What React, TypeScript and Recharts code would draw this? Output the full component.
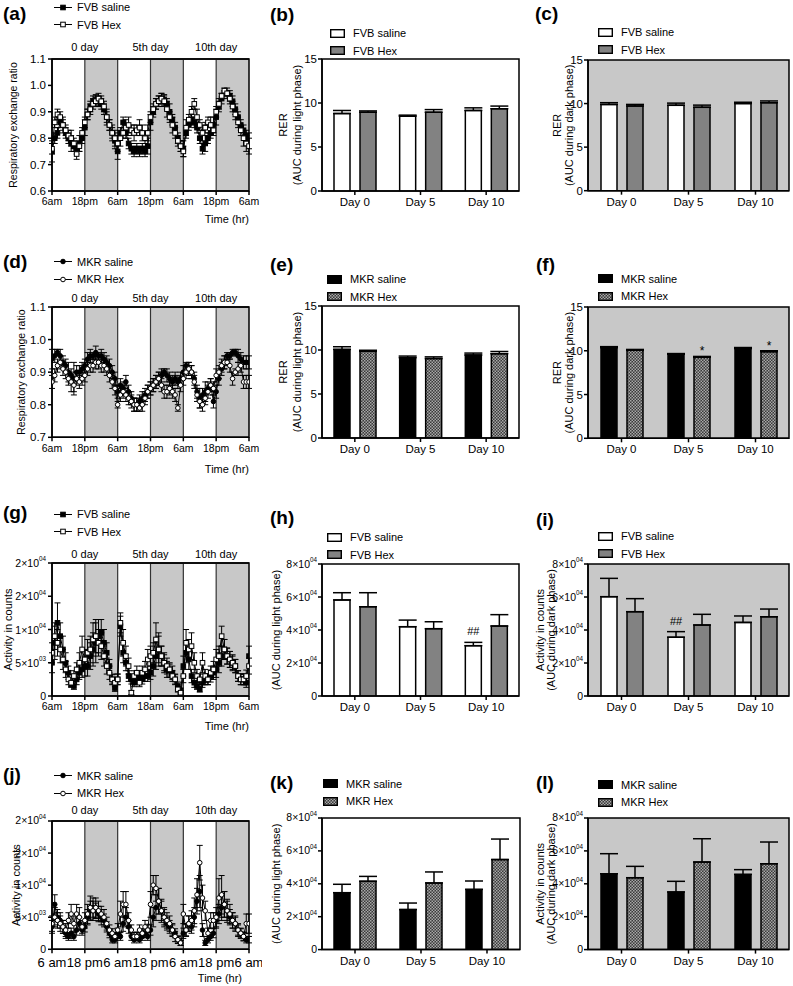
import React from 'react';
import {
  ComposedChart, BarChart, Bar, Line, XAxis, YAxis, ErrorBar, ReferenceArea,
  ReferenceLine, CartesianGrid, Legend, LabelList,
} from 'recharts';

const FONT = '"Liberation Sans", Arial, Helvetica, sans-serif';
const PHASE_GREY = '#c8c8c8';
const HEX_GREY = '#828282';

// ---------- time course data (one point per hour, 6am day 0 = hour 0) ----------
const hours = Array.from({ length: 73 }, (_, i) => i);
const hourTicks = [0, 12, 24, 36, 48, 60, 72];
const hourLabels = ['6am', '18pm', '6am', '18pm', '6am', '18pm', '6am'];
const hourLabelsG = ['6am', '18pm', '6am', '18am', '6am', '18pm', '6am'];
const hourLabelsJ = ['6 am', '18 pm', '6 am', '18 pm', '6 am', '18 pm', '6 am'];
const dayTicks = [12, 36, 60];
const dayLabels = ['0 day', '5th day', '10th day'];
const darkPhases = [[12, 24], [36, 48], [60, 72]];
const phaseEdges = [12, 24, 36, 48, 60];

const fvbSalineRer = [
  0.75, 0.80, 0.82, 0.86, 0.85, 0.82, 0.80, 0.78, 0.77, 0.76, 0.78, 0.80,
  0.84, 0.89, 0.92, 0.94, 0.945, 0.94, 0.93, 0.91, 0.88, 0.85, 0.82, 0.79,
  0.75, 0.82, 0.86, 0.82, 0.78, 0.76, 0.75, 0.76, 0.75, 0.76, 0.75, 0.77,
  0.86, 0.90, 0.93, 0.94, 0.95, 0.945, 0.93, 0.90, 0.87, 0.84, 0.80, 0.77,
  0.76, 0.82, 0.85, 0.87, 0.86, 0.84, 0.80, 0.76, 0.78, 0.80, 0.82, 0.85,
  0.88, 0.92, 0.95, 0.97, 0.97, 0.96, 0.94, 0.91, 0.88, 0.85, 0.83, 0.81,
  0.79,
];
const fvbSalineRerErr = [
  0.04, 0.02, 0.02, 0.02, 0.02, 0.02, 0.02, 0.03, 0.02, 0.02, 0.03, 0.02,
  0.03, 0.02, 0.02, 0.02, 0.02, 0.02, 0.02, 0.02, 0.02, 0.02, 0.03, 0.03,
  0.03, 0.02, 0.02, 0.02, 0.02, 0.02, 0.02, 0.02, 0.02, 0.02, 0.02, 0.03,
  0.03, 0.02, 0.02, 0.02, 0.02, 0.02, 0.02, 0.03, 0.02, 0.02, 0.02, 0.02,
  0.03, 0.02, 0.02, 0.02, 0.02, 0.02, 0.02, 0.02, 0.03, 0.02, 0.02, 0.03,
  0.03, 0.02, 0.02, 0.01, 0.01, 0.02, 0.02, 0.02, 0.02, 0.02, 0.02, 0.02,
  0.03,
];
const fvbHexRer = [
  0.76, 0.86, 0.89, 0.88, 0.85, 0.83, 0.81, 0.80, 0.78, 0.74, 0.77, 0.82,
  0.86, 0.89, 0.91, 0.93, 0.94, 0.95, 0.94, 0.92, 0.88, 0.85, 0.82, 0.80,
  0.78, 0.80, 0.82, 0.84, 0.85, 0.83, 0.82, 0.83, 0.84, 0.82, 0.80, 0.82,
  0.88, 0.91, 0.93, 0.94, 0.95, 0.94, 0.91, 0.88, 0.85, 0.82, 0.79, 0.77,
  0.75, 0.84, 0.87, 0.90, 0.93, 0.88, 0.85, 0.82, 0.84, 0.86, 0.85, 0.83,
  0.90, 0.93, 0.96, 0.98, 0.97, 0.95, 0.92, 0.89, 0.86, 0.83, 0.80, 0.78,
  0.77,
];
const fvbHexRerErr = [
  0.02, 0.02, 0.02, 0.02, 0.03, 0.02, 0.02, 0.03, 0.02, 0.02, 0.02, 0.02,
  0.02, 0.02, 0.02, 0.02, 0.02, 0.02, 0.02, 0.02, 0.03, 0.02, 0.02, 0.03,
  0.03, 0.03, 0.02, 0.03, 0.03, 0.02, 0.03, 0.02, 0.03, 0.03, 0.02, 0.03,
  0.02, 0.02, 0.02, 0.02, 0.02, 0.02, 0.03, 0.02, 0.03, 0.02, 0.02, 0.02,
  0.02, 0.03, 0.02, 0.02, 0.02, 0.03, 0.02, 0.03, 0.02, 0.02, 0.03, 0.02,
  0.02, 0.02, 0.01, 0.01, 0.02, 0.02, 0.02, 0.02, 0.02, 0.02, 0.03, 0.03,
  0.03,
];

const mkrSalineRer = [
  0.94, 0.95, 0.96, 0.95, 0.93, 0.92, 0.90, 0.89, 0.88, 0.90, 0.90, 0.91,
  0.92, 0.94, 0.95, 0.95, 0.96, 0.95, 0.95, 0.94, 0.93, 0.92, 0.90, 0.88,
  0.84, 0.86, 0.85, 0.87, 0.84, 0.82, 0.80, 0.80, 0.81, 0.82, 0.83, 0.84,
  0.85, 0.86, 0.87, 0.88, 0.89, 0.90, 0.89, 0.88, 0.87, 0.88, 0.87, 0.88,
  0.90, 0.92, 0.91, 0.90, 0.88, 0.84, 0.82, 0.83, 0.84, 0.85, 0.86, 0.81,
  0.84, 0.88, 0.91, 0.93, 0.95, 0.95, 0.96, 0.96, 0.95, 0.94, 0.93, 0.93,
  0.93,
];
const mkrSalineRerErr = [
  0.03, 0.02, 0.01, 0.02, 0.02, 0.02, 0.03, 0.02, 0.05, 0.02, 0.02, 0.02,
  0.02, 0.02, 0.02, 0.01, 0.02, 0.01, 0.02, 0.02, 0.02, 0.02, 0.02, 0.02,
  0.02, 0.02, 0.02, 0.02, 0.02, 0.02, 0.02, 0.02, 0.02, 0.02, 0.02, 0.02,
  0.02, 0.02, 0.02, 0.02, 0.02, 0.01, 0.02, 0.02, 0.02, 0.02, 0.02, 0.02,
  0.02, 0.01, 0.02, 0.02, 0.02, 0.02, 0.03, 0.02, 0.03, 0.02, 0.02, 0.02,
  0.02, 0.02, 0.02, 0.02, 0.01, 0.01, 0.01, 0.01, 0.02, 0.02, 0.02, 0.02,
  0.02,
];
const mkrHexRer = [
  0.87, 0.89, 0.92, 0.93, 0.91, 0.90, 0.88, 0.87, 0.86, 0.88, 0.87, 0.88,
  0.89, 0.91, 0.92, 0.92, 0.93, 0.93, 0.92, 0.92, 0.91, 0.89, 0.87, 0.85,
  0.80, 0.83, 0.84, 0.83, 0.82, 0.81, 0.80, 0.80, 0.79, 0.80, 0.82, 0.84,
  0.85, 0.86, 0.87, 0.88, 0.86, 0.84, 0.84, 0.85, 0.84, 0.83, 0.79, 0.86,
  0.88, 0.90, 0.91, 0.90, 0.87, 0.83, 0.81, 0.80, 0.82, 0.84, 0.86, 0.85,
  0.89, 0.90, 0.92, 0.93, 0.93, 0.92, 0.88, 0.90, 0.91, 0.92, 0.87, 0.87,
  0.87,
];
const mkrHexRerErr = [
  0.02, 0.02, 0.02, 0.02, 0.02, 0.02, 0.02, 0.03, 0.02, 0.02, 0.02, 0.02,
  0.02, 0.02, 0.02, 0.02, 0.02, 0.02, 0.02, 0.02, 0.02, 0.02, 0.02, 0.02,
  0.01, 0.02, 0.02, 0.02, 0.02, 0.02, 0.02, 0.02, 0.01, 0.02, 0.02, 0.02,
  0.02, 0.02, 0.02, 0.02, 0.02, 0.02, 0.02, 0.02, 0.02, 0.02, 0.01, 0.02,
  0.02, 0.02, 0.02, 0.02, 0.02, 0.02, 0.02, 0.02, 0.02, 0.02, 0.02, 0.02,
  0.02, 0.02, 0.02, 0.02, 0.01, 0.02, 0.02, 0.01, 0.02, 0.02, 0.02, 0.02,
  0.02,
];

const fvbSalineAct = [
  5000, 8000, 11000, 9000, 7000, 5000, 3500, 1800, 1500, 2500, 3500, 4000,
  4500, 4500, 6000, 7000, 8000, 9000, 9500, 8000, 6500, 4500, 2500, 1200,
  2500, 10500, 6500, 5000, 3000, 2500, 2000, 2500, 3000, 2500, 3000, 3000,
  3500, 4500, 6000, 7000, 6000, 5000, 4000, 3800, 3500, 2500, 1500, 800,
  4500, 6500, 5500, 3000, 2000, 1500, 1000, 2000, 2500, 2500, 3000, 3500,
  4000, 5000, 6000, 7000, 6000, 5500, 5000, 4500, 3000, 2500, 2500, 2000,
  6000,
];
const fvbSalineActErr = [
  1500, 2500, 3000, 2000, 2000, 1500, 1000, 500, 500, 800, 1000, 1200,
  1500, 1500, 2000, 2500, 3000, 2500, 2000, 2000, 1500, 1000, 700, 500,
  800, 1500, 1500, 1200, 800, 700, 600, 700, 800, 700, 800, 800,
  1000, 1500, 2000, 2500, 1500, 1500, 1200, 1000, 1000, 800, 600, 400,
  1500, 1500, 1500, 1000, 700, 500, 400, 700, 800, 800, 900, 1000,
  1200, 1500, 1500, 1500, 1200, 1200, 1200, 1000, 800, 800, 800, 700,
  1500,
];
const fvbHexAct = [
  6500, 9000, 8000, 7000, 5500, 4000, 2500, 2000, 3000, 4000, 5000, 7000,
  5500, 6500, 7000, 8500, 9000, 8000, 7500, 6000, 4500, 3500, 2500, 2000,
  2500, 11000, 8000, 6000, 4500, 500, 3000, 3500, 2000, 3500, 4000, 5500,
  6000, 6500, 8500, 7000, 6000, 5000, 4500, 4000, 3000, 2500, 1000, 500,
  3000, 8000, 7000, 7500, 5000, 3000, 2500, 5000, 3000, 2500, 3500, 4000,
  5500, 6000, 9000, 7000, 6000, 5500, 5000, 4500, 3000, 2500, 2500, 3000,
  4500,
];
const fvbHexActErr = [
  1500, 2000, 2000, 2000, 1500, 1200, 800, 600, 800, 1000, 1500, 2000,
  1500, 2000, 2000, 2500, 2500, 2000, 2000, 1500, 1200, 1000, 800, 600,
  800, 1500, 2000, 1500, 1200, 300, 800, 1000, 600, 1000, 1200, 1500,
  1500, 1500, 2500, 2000, 1500, 1200, 1200, 1000, 800, 700, 400, 300,
  1000, 2000, 1500, 2000, 1500, 1000, 800, 1500, 1000, 800, 1000, 1200,
  1500, 1500, 1500, 1500, 1200, 1200, 1000, 1000, 800, 800, 800, 900,
  1200,
];

const mkrSalineAct = [
  3500, 7000, 5000, 4500, 3500, 2500, 2000, 2500, 2000, 3000, 4000, 3000,
  3500, 5000, 6000, 6500, 6000, 5500, 5000, 4500, 3500, 2500, 1500, 1500,
  2500, 2000, 4000, 5000, 3500, 2000, 1500, 2000, 1500, 2000, 2500, 2000,
  3000, 5000, 6500, 7500, 6000, 5000, 4000, 3500, 3000, 2500, 1500, 1000,
  2500, 3000, 4000, 3500, 5000, 7500, 9000, 3000, 1000, 1500, 2000, 2500,
  4500, 5500, 6500, 7000, 6000, 5000, 4500, 4000, 3000, 2500, 2000, 1500,
  1500,
];
const mkrSalineActErr = [
  1000, 1500, 1200, 1200, 1000, 800, 600, 800, 600, 800, 1000, 800,
  800, 1200, 1500, 1500, 1200, 1200, 1200, 1000, 800, 700, 500, 500,
  800, 600, 1200, 1500, 1000, 600, 500, 600, 500, 600, 700, 600,
  800, 1500, 2000, 2000, 1500, 1200, 1000, 1000, 800, 700, 500, 400,
  800, 900, 1200, 1000, 1500, 2000, 2500, 1000, 400, 500, 600, 700,
  1200, 1500, 2000, 2000, 1500, 1200, 1200, 1000, 800, 700, 600, 500,
  500,
];
const mkrHexAct = [
  4000, 5000, 4500, 4000, 3500, 3000, 4500, 5500, 4000, 5500, 5000, 3500,
  4500, 5500, 6500, 6000, 6500, 6000, 5500, 5000, 4000, 3000, 2500, 2000,
  3000, 5500, 7000, 7000, 4500, 3000, 2000, 2000, 3000, 2500, 3500, 3000,
  7000, 10000, 9500, 7500, 6000, 5000, 4500, 4000, 3000, 2000, 1500, 1000,
  5500, 3000, 4000, 4500, 6000, 8500, 13500, 8000, 6000, 2500, 4500, 4500,
  5000, 8000, 8500, 7000, 6000, 5500, 4500, 4000, 3000, 2500, 2000, 4000,
  4000,
];
const mkrHexActErr = [
  1200, 1500, 1200, 1200, 1000, 1000, 1200, 1500, 1200, 1500, 1500, 1000,
  1200, 1500, 1800, 1500, 1500, 1500, 1200, 1200, 1000, 800, 700, 600,
  1000, 2000, 2000, 2000, 1200, 800, 600, 700, 800, 700, 1000, 900,
  2000, 1500, 2000, 2000, 1800, 1500, 1200, 1200, 1000, 800, 600, 400,
  1500, 1000, 1200, 1500, 2000, 2500, 2700, 2000, 1500, 800, 1200, 1200,
  1500, 3000, 3000, 2000, 1800, 1500, 1200, 1200, 1000, 800, 700, 1500,
  1500,
];

const rerTicksA = [0.6, 0.7, 0.8, 0.9, 1.0, 1.1];
const rerTicksD = [0.7, 0.8, 0.9, 1.0, 1.1];
const actTsTicks = [0, 5000, 10000, 15000, 20000];
const actTsTickLabels = ['0', '5×10^03', '1×10^04', '2×10^04', '2×10^04'];

// ---------- AUC bar data ----------
const days = ['Day 0', 'Day 5', 'Day 10'];
const rerTicks = [0, 5, 10, 15];
const aucActTicks = [0, 20000, 40000, 60000, 80000];
const aucActTickLabels = ['0', '2×10^04', '4×10^04', '6×10^04', '8×10^04'];

const rerLightFvbSaline = [8.8, 8.5, 9.15];
const rerLightFvbSalineErr = [0.35, 0.12, 0.3];
const rerLightFvbHex = [8.95, 8.95, 9.35];
const rerLightFvbHexErr = [0.15, 0.3, 0.3];

const rerDarkFvbSaline = [9.9, 9.8, 10.0];
const rerDarkFvbSalineErr = [0.2, 0.25, 0.15];
const rerDarkFvbHex = [9.72, 9.57, 10.1];
const rerDarkFvbHexErr = [0.18, 0.25, 0.2];

const rerLightMkrSaline = [10.07, 9.13, 9.43];
const rerLightMkrSalineErr = [0.3, 0.18, 0.22];
const rerLightMkrHex = [9.85, 9.02, 9.58];
const rerLightMkrHexErr = [0.12, 0.2, 0.25];

const rerDarkMkrSaline = [10.35, 9.6, 10.25];
const rerDarkMkrSalineErr = [0.12, 0.08, 0.12];
const rerDarkMkrHex = [10.05, 9.25, 9.9];
const rerDarkMkrHexErr = [0.1, 0.1, 0.1];
const rerDarkMkrHexMarks = ['', '*', '*'];

const actLightFvbSaline = [58200, 42000, 30500];
const actLightFvbSalineErr = [4400, 4000, 2000];
const actLightFvbSalineMarks = ['', '', '##'];
const actLightFvbHex = [54100, 40800, 42400];
const actLightFvbHexErr = [8500, 4200, 6900];

const actDarkFvbSaline = [60200, 35600, 44600];
const actDarkFvbSalineErr = [11100, 3400, 3900];
const actDarkFvbSalineMarks = ['', '##', ''];
const actDarkFvbHex = [51100, 43000, 48000];
const actDarkFvbHexErr = [7900, 6500, 4700];

const actLightMkrSaline = [34600, 24300, 36600];
const actLightMkrSalineErr = [5100, 4000, 5100];
const actLightMkrHex = [41500, 40500, 54700];
const actLightMkrHexErr = [3000, 6700, 12500];

const actDarkMkrSaline = [46100, 35000, 45700];
const actDarkMkrSalineErr = [12200, 6500, 2900];
const actDarkMkrHex = [43700, 53200, 52200];
const actDarkMkrHexErr = [6900, 14200, 13200];

// ---------- drawing helpers ----------
const axisStroke = { stroke: '#000', strokeWidth: 1.5 };

function Marker({ cx, cy, shape, filled, size = 4.6 }: any) {
  if (cx == null || cy == null) return null;
  const fill = filled ? '#000' : '#fff';
  if (shape === 'square') {
    return <rect x={cx - size / 2} y={cy - size / 2} width={size} height={size} fill={fill} stroke="#000" strokeWidth={1} />;
  }
  return <circle cx={cx} cy={cy} r={size / 2} fill={fill} stroke="#000" strokeWidth={1} />;
}

function SciTick(props: any) {
  const { x, y, payload, ticks, labels, fontSize = 10.5 } = props;
  const i = ticks.indexOf(payload.value);
  const lab: string = i >= 0 ? labels[i] : String(payload.value);
  const [m, e] = lab.split('^');
  return (
    <text x={x} y={y} textAnchor="end" dominantBaseline="central" fontSize={fontSize} fontFamily={FONT} fill="#000">
      {m}
      {e && <tspan dy={-fontSize * 0.45} fontSize={fontSize * 0.6}>{e}</tspan>}
    </text>
  );
}

function Checker({ id }: { id: string }) {
  return (
    <pattern id={id} width={3} height={3} patternUnits="userSpaceOnUse">
      <rect width={3} height={3} fill="#3a3a3a" />
      <rect width={1.5} height={1.5} fill="#a8a8a8" />
      <rect x={1.5} y={1.5} width={1.5} height={1.5} fill="#a8a8a8" />
    </pattern>
  );
}

// legend rows follow the series order; the text comes from the recharts payload
const entryFor = (p: any, name: string) => (p.payload ?? []).find((e: any) => e.value === name);

const tsLegend = (series: any[]) => (p: any) => (
  <div style={{ fontFamily: FONT, fontSize: 11, color: '#000' }}>
    {series.map((s: any, i: number) => {
      const entry = entryFor(p, s.name);
      return (
        <div key={i} style={{ display: 'flex', alignItems: 'center', height: 17.5, whiteSpace: 'nowrap' }}>
          <svg width={18} height={9} style={{ display: 'block' }}>
            <line x1={0} x2={18} y1={4.5} y2={4.5} stroke="#000" strokeWidth={1} />
            <Marker cx={9} cy={4.5} shape={s.shape} filled={s.filled} />
          </svg>
          <span style={{ marginLeft: 5 }}>{entry ? entry.value : s.name}</span>
        </div>
      );
    })}
  </div>
);

const barLegend = (series: any[], pid: string) => (p: any) => (
  <div style={{ fontFamily: FONT, fontSize: 11, color: '#000' }}>
    {series.map((s: any, i: number) => {
      const entry = entryFor(p, s.name);
      const lid = `${pid}-leg`;
      return (
        <div key={i} style={{ display: 'flex', alignItems: 'center', height: 17.5, whiteSpace: 'nowrap' }}>
          <svg width={15} height={9} style={{ display: 'block' }}>
            {s.pattern && <defs><Checker id={lid} /></defs>}
            <rect x={0.7} y={0.7} width={13.6} height={7.6} fill={s.pattern ? `url(#${lid})` : s.fill} stroke="#000" strokeWidth={1.4} />
          </svg>
          <span style={{ marginLeft: 8 }}>{entry ? entry.value : s.name}</span>
        </div>
      );
    })}
  </div>
);

function TimePanel(props: any) {
  const { top, plotH, legendY, series, yDomain, yTicks, yTickLabels, yTitle, yTitleX, yTitleSize = 10.5,
    xLabels, xFont = 10.5, xTickMargin = 3, dayGap, timeDy, timeRight = 0 } = props;
  const data = hours.map((h, i) => ({
    h,
    s0: series[0].values[i], e0: series[0].errors[i],
    s1: series[1].values[i], e1: series[1].errors[i],
  }));
  const plotTop = 59;
  const height = plotTop + plotH + 42;
  const cy = plotTop + plotH / 2;
  const tick = { fontSize: 11.5, fill: '#000', fontFamily: FONT };
  return (
    <div style={{ position: 'absolute', left: 0, top }}>
      <ComposedChart width={262} height={height} data={data} margin={{ top: 30, right: 13, bottom: 0, left: 0 }}>
        {darkPhases.map(([a, b]) => (
          <ReferenceArea key={a} x1={a} x2={b} fill={PHASE_GREY} fillOpacity={1} stroke="none" />
        ))}
        {phaseEdges.map((x) => (
          <ReferenceLine key={x} x={x} stroke="#333" strokeWidth={1.2} />
        ))}
        <ReferenceArea x1={0} x2={72} y1={yDomain[0]} y2={yDomain[1]} fill="none" stroke="#000" strokeWidth={1.5} />
        <XAxis
          xAxisId="top" orientation="top" type="number" domain={[0, 72]} ticks={dayTicks} interval={0}
          height={29} tickSize={0} tickMargin={dayGap} allowDataOverflow
          tickFormatter={(v: any, i: number) => dayLabels[i]}
          axisLine={axisStroke} tickLine={false} tick={{ ...tick, fontSize: 11 }}
        />
        <XAxis
          dataKey="h" type="number" domain={[0, 72]} ticks={hourTicks} interval={0}
          height={42} tickSize={4} tickMargin={xTickMargin} allowDataOverflow
          tickFormatter={(v: any, i: number) => xLabels[i]}
          axisLine={axisStroke} tickLine={axisStroke} tick={{ ...tick, fontSize: xFont }}
          label={() => (
            <text x={249 - timeRight} y={plotTop + plotH + timeDy} textAnchor="end" dominantBaseline="central"
              fontSize={11} fontFamily={FONT} fill="#000">Time (hr)</text>
          )}
        />
        <YAxis
          type="number" domain={yDomain} ticks={yTicks} interval={0} width={52} tickSize={4} tickMargin={2}
          allowDataOverflow axisLine={axisStroke} tickLine={axisStroke}
          tick={yTickLabels
            ? (p: any) => <SciTick {...p} ticks={yTicks} labels={yTickLabels} />
            : tick}
          tickFormatter={yTickLabels ? undefined : (v: number) => v.toFixed(1)}
          label={() => (
            <text x={yTitleX} y={cy} transform={`rotate(-90 ${yTitleX} ${cy})`} textAnchor="middle"
              dominantBaseline="central" fontSize={yTitleSize} fontFamily={FONT} fill="#000">{yTitle}</text>
          )}
        />
        <Legend
          layout="vertical" align="center" verticalAlign="middle"
          wrapperStyle={{ left: 54, top: legendY - top - 8.75, width: 'auto' }}
          content={tsLegend(series)}
        />
        {series.map((s: any, k: number) => (
          <Line
            key={k} dataKey={`s${k}`} name={s.name} stroke="#000" strokeWidth={1}
            isAnimationActive={false} activeDot={false}
            dot={(p: any) => <Marker key={`m${k}-${p.index}`} cx={p.cx} cy={p.cy} shape={s.shape} filled={s.filled} />}
          >
            <ErrorBar dataKey={`e${k}`} width={3} strokeWidth={1} stroke="#000" direction="y" />
          </Line>
        ))}
      </ComposedChart>
    </div>
  );
}

function BarPanel(props: any) {
  const { left, plotTop, plotH, width, yMax, yTicks, yTickLabels, titles, titleXs, bg, series,
    legendX, legendY, pid } = props;
  const top = plotTop - 60;
  const height = 60 + plotH + 30;
  const cy = 60 + plotH / 2;
  const data = days.map((d, i) => ({
    day: d,
    s0: series[0].values[i], e0: [0, series[0].errors[i]], m0: series[0].marks ? series[0].marks[i] : '',
    s1: series[1].values[i], e1: [0, series[1].errors[i]], m1: series[1].marks ? series[1].marks[i] : '',
  }));
  const tick = { fontSize: 11.5, fill: '#000', fontFamily: FONT };
  const markContent = (s: any) => (p: any) => {
    const vb = p.viewBox && p.viewBox.width != null ? p.viewBox : p;
    const { x, y, width: w, height: h } = vb;
    const i = p.index;
    if (!p.value || i == null) return null;
    const pxPer = h / s.values[i];
    const capY = y - s.errors[i] * pxPer;
    const isStar = p.value === '*';
    return (
      <text x={x + w / 2} y={capY - (isStar ? 1 : 7)} textAnchor="middle" fontSize={isStar ? 12 : 11}
        fontFamily={FONT} fill="#000">{p.value}</text>
    );
  };
  return (
    <div style={{ position: 'absolute', left, top }}>
      <BarChart width={width} height={height} data={data} margin={{ top: 60, right: 3, bottom: 0, left: 0 }}
        barSize={16} barGap={10}>
        <defs><Checker id={pid} /></defs>
        <CartesianGrid horizontal={false} vertical={false} fill={bg} fillOpacity={1} />
        <XAxis
          dataKey="day" height={30} tickSize={4} tickMargin={3} interval={0}
          axisLine={axisStroke} tickLine={axisStroke} tick={{ ...tick, fontSize: 11.5 }}
        />
        <YAxis
          type="number" domain={[0, yMax]} ticks={yTicks} interval={0} width={60} tickSize={4} tickMargin={1}
          allowDataOverflow axisLine={axisStroke} tickLine={axisStroke}
          tick={yTickLabels ? (p: any) => <SciTick {...p} ticks={yTicks} labels={yTickLabels} /> : tick}
          label={() => (
            <g>
              {titles.map((t: string, i: number) => (
                <text key={i} x={titleXs[i] - left} y={cy} transform={`rotate(-90 ${titleXs[i] - left} ${cy})`}
                  textAnchor="middle" dominantBaseline="central" fontSize={11} fontFamily={FONT} fill="#000">{t}</text>
              ))}
            </g>
          )}
        />
        <ReferenceArea y1={0} y2={yMax} fill="none" stroke="#000" strokeWidth={1.5} />
        <Legend
          layout="vertical" align="center" verticalAlign="middle"
          wrapperStyle={{ left: legendX - left, top: legendY - top - 8.75, width: 'auto' }}
          content={barLegend(series, pid)}
        />
        {series.map((s: any, k: number) => (
          <Bar key={k} dataKey={`s${k}`} name={s.name} fill={s.pattern ? `url(#${pid})` : s.fill}
            stroke="#000" strokeWidth={1.5} isAnimationActive={false}>
            <ErrorBar dataKey={`e${k}`} width={9} strokeWidth={1.5} stroke="#000" direction="y" />
            {s.marks && <LabelList dataKey={`m${k}`} content={markContent(s)} />}
          </Bar>
        ))}
      </BarChart>
    </div>
  );
}

const letters = [
  { t: '(a)', x: 3, y: 14 }, { t: '(b)', x: 270, y: 15 }, { t: '(c)', x: 535, y: 14 },
  { t: '(d)', x: 3, y: 262 }, { t: '(e)', x: 270, y: 265 }, { t: '(f)', x: 536, y: 265 },
  { t: '(g)', x: 3, y: 513 }, { t: '(h)', x: 270, y: 518 }, { t: '(i)', x: 536, y: 520 },
  { t: '(j)', x: 3, y: 775 }, { t: '(k)', x: 270, y: 783 }, { t: '(l)', x: 536, y: 783 },
];

export default function App() {
  const fvbTs = (v0: number[], e0: number[], v1: number[], e1: number[]) => [
    { name: 'FVB saline', values: v0, errors: e0, shape: 'square', filled: true },
    { name: 'FVB Hex', values: v1, errors: e1, shape: 'square', filled: false },
  ];
  const mkrTs = (v0: number[], e0: number[], v1: number[], e1: number[]) => [
    { name: 'MKR saline', values: v0, errors: e0, shape: 'circle', filled: true },
    { name: 'MKR Hex', values: v1, errors: e1, shape: 'circle', filled: false },
  ];
  const fvbBars = (v0: number[], e0: number[], v1: number[], e1: number[], m0?: string[]) => [
    { name: 'FVB saline', values: v0, errors: e0, fill: '#fff', marks: m0 },
    { name: 'FVB Hex', values: v1, errors: e1, fill: HEX_GREY },
  ];
  const mkrBars = (v0: number[], e0: number[], v1: number[], e1: number[], m1?: string[]) => [
    { name: 'MKR saline', values: v0, errors: e0, fill: '#000' },
    { name: 'MKR Hex', values: v1, errors: e1, fill: '#555', pattern: true, marks: m1 },
  ];
  return (
    <div style={{ position: 'absolute', left: 0, top: 0, width: 793, height: 986, background: '#fff', fontFamily: FONT, overflow: 'hidden' }}>
      <TimePanel
        top={0} plotH={132} legendY={7} dayGap={8}
        series={fvbTs(fvbSalineRer, fvbSalineRerErr, fvbHexRer, fvbHexRerErr)}
        yDomain={[0.6, 1.1]} yTicks={rerTicksA} yTitle="Respiratory exchange ratio" yTitleX={12.5}
        xLabels={hourLabels} timeDy={28}
      />
      <TimePanel
        top={247.7} plotH={130.3} legendY={262} dayGap={5}
        series={mkrTs(mkrSalineRer, mkrSalineRerErr, mkrHexRer, mkrHexRerErr)}
        yDomain={[0.7, 1.1]} yTicks={rerTicksD} yTitle="Respiratory exchange ratio" yTitleX={22}
        xLabels={hourLabels} timeDy={32}
      />
      <TimePanel
        top={504} plotH={133} legendY={514} dayGap={5.5}
        series={fvbTs(fvbSalineAct, fvbSalineActErr, fvbHexAct, fvbHexActErr)}
        yDomain={[0, 20000]} yTicks={actTsTicks} yTickLabels={actTsTickLabels}
        yTitle="Activity in counts" yTitleX={8} yTitleSize={11}
        xLabels={hourLabelsG} timeDy={30}
      />
      <TimePanel
        top={761.7} plotH={128.3} legendY={776} dayGap={6.5}
        series={mkrTs(mkrSalineAct, mkrSalineActErr, mkrHexAct, mkrHexActErr)}
        yDomain={[0, 20000]} yTicks={actTsTicks} yTickLabels={actTsTickLabels}
        yTitle="Activity in counts" yTitleX={16} yTitleSize={11}
        xLabels={hourLabelsJ} xFont={13} xTickMargin={4} timeDy={29} timeRight={7}
      />

      <BarPanel
        left={262} plotTop={59} plotH={132} width={260} yMax={15} yTicks={rerTicks}
        titles={['RER', '(AUC during light phase)']} titleXs={[283, 297]} bg="none"
        series={fvbBars(rerLightFvbSaline, rerLightFvbSalineErr, rerLightFvbHex, rerLightFvbHexErr)}
        legendX={330} legendY={33} pid="pat-b"
      />
      <BarPanel
        left={528} plotTop={60} plotH={130.7} width={264} yMax={15} yTicks={rerTicks}
        titles={['RER', '(AUC during dark phase)']} titleXs={[557, 569]} bg={PHASE_GREY}
        series={fvbBars(rerDarkFvbSaline, rerDarkFvbSalineErr, rerDarkFvbHex, rerDarkFvbHexErr)}
        legendX={598} legendY={32} pid="pat-c"
      />
      <BarPanel
        left={262} plotTop={306} plotH={132} width={260} yMax={15} yTicks={rerTicks}
        titles={['RER', '(AUC during light phase)']} titleXs={[283, 297]} bg="none"
        series={mkrBars(rerLightMkrSaline, rerLightMkrSalineErr, rerLightMkrHex, rerLightMkrHexErr)}
        legendX={327} legendY={279} pid="pat-e"
      />
      <BarPanel
        left={528} plotTop={306.7} plotH={131.3} width={264} yMax={15} yTicks={rerTicks}
        titles={['RER', '(AUC during dark phase)']} titleXs={[557, 569]} bg={PHASE_GREY}
        series={mkrBars(rerDarkMkrSaline, rerDarkMkrSalineErr, rerDarkMkrHex, rerDarkMkrHexErr, rerDarkMkrHexMarks)}
        legendX={598} legendY={279} pid="pat-f"
      />
      <BarPanel
        left={262} plotTop={564} plotH={132} width={260} yMax={80000} yTicks={aucActTicks} yTickLabels={aucActTickLabels}
        titles={['(AUC during light phase)']} titleXs={[276]} bg="none"
        series={fvbBars(actLightFvbSaline, actLightFvbSalineErr, actLightFvbHex, actLightFvbHexErr, actLightFvbSalineMarks)}
        legendX={327} legendY={537} pid="pat-h"
      />
      <BarPanel
        left={528} plotTop={564} plotH={132} width={264} yMax={80000} yTicks={aucActTicks} yTickLabels={aucActTickLabels}
        titles={['Activity in counts', '(AUC during dark phase)']} titleXs={[540, 551]} bg={PHASE_GREY}
        series={fvbBars(actDarkFvbSaline, actDarkFvbSalineErr, actDarkFvbHex, actDarkFvbHexErr, actDarkFvbSalineMarks)}
        legendX={598} legendY={536} pid="pat-i"
      />
      <BarPanel
        left={262} plotTop={817.7} plotH={131.6} width={261} yMax={80000} yTicks={aucActTicks} yTickLabels={aucActTickLabels}
        titles={['(AUC during light phase)']} titleXs={[276]} bg="none"
        series={mkrBars(actLightMkrSaline, actLightMkrSalineErr, actLightMkrHex, actLightMkrHexErr)}
        legendX={323} legendY={784} pid="pat-k"
      />
      <BarPanel
        left={528} plotTop={817.7} plotH={131.6} width={264} yMax={80000} yTicks={aucActTicks} yTickLabels={aucActTickLabels}
        titles={['Activity in counts', '(AUC during dark phase)']} titleXs={[540, 551]} bg={PHASE_GREY}
        series={mkrBars(actDarkMkrSaline, actDarkMkrSalineErr, actDarkMkrHex, actDarkMkrHexErr)}
        legendX={598} legendY={785} pid="pat-l"
      />

      {letters.map((l) => (
        <div key={l.t} style={{ position: 'absolute', left: l.x, top: l.y - 11, fontSize: 19, fontWeight: 'bold', lineHeight: '22px', fontFamily: FONT }}>
          {l.t}
        </div>
      ))}
    </div>
  );
}
